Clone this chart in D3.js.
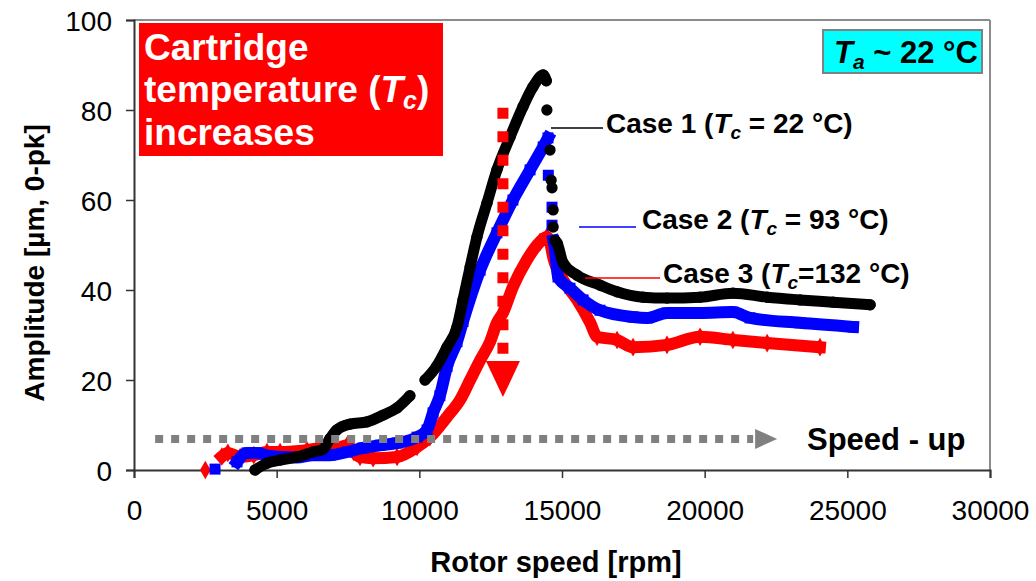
<!DOCTYPE html>
<html>
<head>
<meta charset="utf-8">
<script src="https://cdn.jsdelivr.net/npm/d3@7"></script>
<style>
  html, body { margin: 0; padding: 0; background: #fff; }
  svg { display: block; font-family: "Liberation Sans", Arial, sans-serif; }
</style>
</head>
<body>
<svg id="chart" width="1036" height="581"></svg>
<script>
// ---------------- DATA ----------------
const xTicks = [0, 5000, 10000, 15000, 20000, 25000, 30000];
const yTicks = [0, 20, 40, 60, 80, 100];

// Case 1 (Tc = 22 °C), black circles; null marks a gap in the trace
const case1Speed = [4240,4660,5120,5710,6270,6620,6870,7110,7570,8170,8730,9220,9670,null,10200,10600,10970,11320,11530,11780,12020,12370,12720,13180,13630,13980,14340,14450];
const case1Amp   = [0,1.5,2.2,2.9,4,4.6,7,8.9,10.2,10.7,12.2,13.8,16.5,null,20,23,27.3,31.8,37.8,45.1,51.8,59.3,66.7,74,80.7,85.1,87.8,86.5];
const case1DropSpeed = [14470,14580,14620,14650,14690,14690];
const case1DropAmp   = [80,71.1,64.4,62.7,57.8,54];
const case1TailSpeed = [14760,14830,15040,15530,16330,16930,17840,18680,19840,20990,22190,23340,24500,25800];
const case1TailAmp   = [51,50.4,46,43.3,41.1,39.6,38.4,38.2,38.4,39.3,38.4,37.8,37.3,36.7];

// Case 2 (Tc = 93 °C), blue squares
const case2Speed = [3610,3960,4310,4700,5120,5700,6270,6870,7470,8030,8620,9220,9920,10270,10480,10720,10970,11320,11530,12130,12720,13280,13880,14340,14510];
const case2Amp   = [1.8,3.8,3.8,3.2,2.9,2.8,3.3,3.3,4,4.9,5.5,6,7.3,8.9,12.7,16.5,23,28.5,33,44.4,52.7,60,66.7,71.8,73.8];
const case2DropSpeed = [2840,14520,14650,14650];
const case2DropAmp   = [0.2,65.5,58.4,54.4];
const case2TailSpeed = [14700,14760,14860,15280,15740,16330,17490,18000,18680,19840,20990,21590,23340,25200];
const case2TailAmp   = [51,48.9,42.9,40.4,37.8,35.5,34,33.8,34.9,34.9,35.1,33.8,32.7,31.8];

// Case 3 (Tc = 132 °C), red diamonds
const case3Speed = [3080,3290,3720,4200,4660,5120,6060,6600,7110,7470,7700,7920,8380,9220,9920,10370,10970,11430,11780,12130,12480,12720,12930,13280,13770,14230,14470,14580,14690,15040,15530,15990,16230,16930,17490,18680,19840,20990,22190,24040];
const case3Amp   = [3,3.8,2.9,3.3,4,4,4.4,4.9,4.9,5.5,4,2.9,2.6,2.9,5.1,7.3,11.8,15.6,20,24.4,28.5,32.7,34.9,40.7,46.7,50.7,51.8,50.7,47.3,42.2,37.8,32.7,29.6,28.9,27.3,27.8,29.6,28.9,28.2,27.3];
const case3DropSpeed = [2500];
const case3DropAmp   = [0];

const caseLabels = ["Case 1 (", "Case 2 (", "Case 3 ("];
const caseLabelTails = [" = 22 °C)", " = 93 °C)", "=132 °C)"];

// annotation arrows (data units)
const speedUpArrow = { from: [740, 6.9], to: [22540, 6.9] };
const tempArrow = { x: 12930, from: 80.5, to: 16.2 };

// ---------------- LAYOUT ----------------
const svg = d3.select("#chart");
const margin = { left: 134, top: 20, right: 46, bottom: 111 };
const W = 1036 - margin.left - margin.right;   // 856
const H = 581 - margin.top - margin.bottom;    // 450

const x = d3.scaleLinear().domain([0, 30000]).range([0, W]);
const y = d3.scaleLinear().domain([0, 100]).range([H, 0]);

const g = svg.append("g").attr("transform", `translate(${margin.left},${margin.top})`);

// frame (top & right)
g.append("line").attr("x1", 0).attr("x2", W).attr("y1", 0).attr("y2", 0).attr("stroke", "#8c8c8c").attr("stroke-width", 2);
g.append("line").attr("x1", W).attr("x2", W).attr("y1", 0).attr("y2", H).attr("stroke", "#8c8c8c").attr("stroke-width", 2);

// axes
const xAxis = g.append("g").attr("transform", `translate(0,${H})`)
  .call(d3.axisBottom(x).tickValues(xTicks).tickSize(8).tickPadding(22).tickFormat(d3.format("d")));
const yAxis = g.append("g")
  .call(d3.axisLeft(y).tickValues(yTicks).tickSize(8).tickPadding(14).tickFormat(d3.format("d")));
[xAxis, yAxis].forEach(a => {
  a.select(".domain").attr("stroke", "#333").attr("stroke-width", 2);
  a.selectAll(".tick line").attr("stroke", "#333").attr("stroke-width", 1.5);
  a.selectAll(".tick text").attr("fill", "#000").style("font-size", "28px").style("font-family", "Liberation Sans, Arial, sans-serif");
});
xAxis.selectAll(".tick text").attr("dy", "0.71em");
yAxis.selectAll(".tick text").attr("dy", "0.36em");

// axis titles
svg.append("text").attr("x", margin.left + W / 2 - 6).attr("y", 572)
  .attr("text-anchor", "middle").style("font-size", "29px").style("font-weight", "bold")
  .text("Rotor speed [rpm]");
svg.append("text").attr("transform", `translate(44,${margin.top + H / 2 + 18}) rotate(-90)`)
  .attr("text-anchor", "middle").style("font-size", "28px").style("font-weight", "bold")
  .text("Amplitude [µm, 0-pk]");

// ---------------- SERIES ----------------
const zip = (xs, ys) => xs.map((v, i) => [v, ys[i]]);
const line = d3.line().defined(d => d[0] !== null && d[1] !== null)
  .curve(d3.curveMonotoneX).x(d => x(d[0])).y(d => y(d[1]));

function drawSeries(color, width, pts, tail, drop, symbol, size) {
  const sg = g.append("g");
  [pts, tail].forEach(p => {
    sg.append("path").attr("d", line(p)).attr("fill", "none").attr("stroke", color)
      .attr("stroke-width", width).attr("stroke-linejoin", "round")
      .attr("stroke-linecap", symbol === d3.symbolCircle ? "round" : "square");
  });
  const all = pts.concat(tail, drop).filter(d => d[0] !== null);
  sg.selectAll("path.m").data(all).join("path").attr("class", "m")
    .attr("transform", d => `translate(${x(d[0])},${y(d[1])})`)
    .attr("d", d3.symbol().type(symbol).size(size))
    .attr("fill", color);
}

drawSeries("#ff0000", 12, zip(case3Speed, case3Amp), [], zip(case3DropSpeed, case3DropAmp), d3.symbolDiamond, 100);
drawSeries("#0000ff", 12, zip(case2Speed, case2Amp), zip(case2TailSpeed, case2TailAmp), zip(case2DropSpeed, case2DropAmp), d3.symbolSquare, 121);
drawSeries("#000000", 11, zip(case1Speed, case1Amp), zip(case1TailSpeed, case1TailAmp), zip(case1DropSpeed, case1DropAmp), d3.symbolCircle, 100);

// ---------------- ANNOTATIONS ----------------
// speed-up arrow (grey dotted)
{
  const x0 = x(speedUpArrow.from[0]), x1 = x(speedUpArrow.to[0]), yy = y(speedUpArrow.from[1]);
  g.append("line").attr("x1", x0).attr("x2", x1 - 24).attr("y1", yy).attr("y2", yy)
    .attr("stroke", "#808080").attr("stroke-width", 8).attr("stroke-dasharray", "8,8");
  g.append("path").attr("d", `M${x1 - 22},${yy - 10}L${x1},${yy}L${x1 - 22},${yy + 10}Z`).attr("fill", "#808080");
}
svg.append("text").attr("x", 807).attr("y", 450).style("font-size", "31px").style("font-weight", "bold").text("Speed - up");

// temperature arrow (red dotted, downward)
{
  const xx = x(tempArrow.x), y0 = y(tempArrow.from), y1 = y(tempArrow.to);
  g.append("line").attr("x1", xx).attr("x2", xx).attr("y1", y0).attr("y2", y1 - 36)
    .attr("stroke", "#ff0000").attr("stroke-width", 11).attr("stroke-dasharray", "11,12.5");
  g.append("path").attr("d", `M${xx - 17},${y1 - 36}L${xx + 17},${y1 - 36}L${xx},${y1}Z`).attr("fill", "#ff0000");
}

// red title box
svg.append("rect").attr("x", 139).attr("y", 23).attr("width", 304).attr("height", 133).attr("fill", "#ff0000");
const tb = svg.append("text").attr("fill", "#fff").style("font-size", "37px").style("font-weight", "bold");
tb.append("tspan").attr("x", 144).attr("y", 60).text("Cartridge");
tb.append("tspan").attr("x", 144).attr("y", 102).text("temperature (");
tb.append("tspan").style("font-style", "italic").text("T");
tb.append("tspan").style("font-style", "italic").style("font-size", "25px").attr("dy", 7).text("c");
tb.append("tspan").attr("dy", -7).text(")");
tb.append("tspan").attr("x", 144).attr("y", 145).text("increases");

// cyan ambient box
svg.append("rect").attr("x", 823).attr("y", 30).attr("width", 159).attr("height", 43)
  .attr("fill", "#00ffff").attr("stroke", "#808080").attr("stroke-width", 2);
const ta = svg.append("text").attr("x", 834).attr("y", 63).style("font-size", "31px").style("font-weight", "bold");
ta.append("tspan").style("font-style", "italic").text("T");
ta.append("tspan").style("font-style", "italic").style("font-size", "21px").attr("dy", 6).text("a");
ta.append("tspan").attr("dy", -6).text(" ~ 22 °C");

// case labels with leader lines
const labelPos = [
  { lx1: 551, lx2: 603, ly: 128, tx: 606, ty: 133, color: "#000" },
  { lx1: 579, lx2: 636, ly: 227, tx: 642, ty: 229, color: "#0000ff" },
  { lx1: 585, lx2: 660, ly: 278, tx: 663, ty: 283, color: "#ff0000" }
];
labelPos.forEach((p, i) => {
  svg.append("line").attr("x1", p.lx1).attr("x2", p.lx2).attr("y1", p.ly).attr("y2", p.ly)
    .attr("stroke", p.color).attr("stroke-width", 1.5);
  const t = svg.append("text").attr("x", p.tx).attr("y", p.ty).style("font-size", "28px").style("font-weight", "bold");
  t.append("tspan").text(caseLabels[i]);
  t.append("tspan").style("font-style", "italic").text("T");
  t.append("tspan").style("font-style", "italic").style("font-size", "19px").attr("dy", 6).text("c");
  t.append("tspan").attr("dy", -6).text(caseLabelTails[i]);
});
</script>
</body>
</html>
